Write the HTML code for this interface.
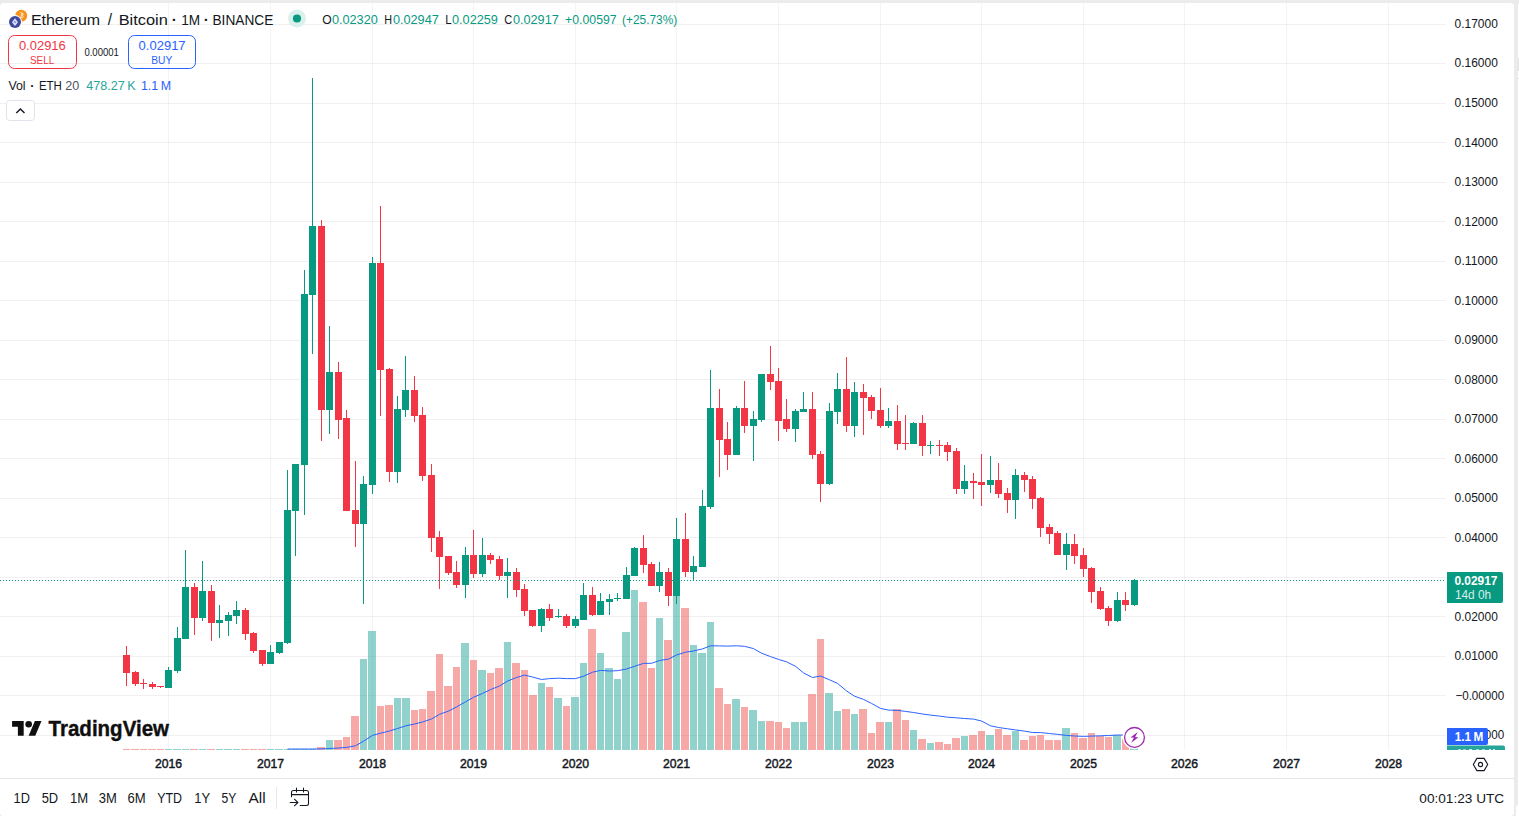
<!DOCTYPE html>
<html><head><meta charset="utf-8"><title>ETHBTC</title>
<style>
html,body{margin:0;padding:0;background:#ebebeb;width:1519px;height:816px;overflow:hidden;font-family:"Liberation Sans",sans-serif;}
text{font-family:"Liberation Sans",sans-serif;}
</style></head><body>
<svg width="1519" height="816" viewBox="0 0 1519 816" style="position:absolute;left:0;top:0;display:block">
<rect x="0" y="0" width="1519" height="816" fill="#ebebeb"/>
<rect x="0" y="3" width="1514" height="813" rx="3.5" ry="3.5" fill="#ffffff"/>
<rect x="1518" y="3" width="4" height="813" rx="3" fill="#ffffff"/>
<rect x="1518" y="58" width="1" height="13" fill="#e3e3e3"/>
<rect x="1518" y="78" width="1" height="1" fill="#e8e8e8"/>
<rect x="1516" y="805" width="6" height="14" rx="2" fill="#ffffff"/>
<g shape-rendering="crispEdges" fill="rgba(42,46,57,0.065)">
<rect x="0" y="24" width="1446" height="1" fill="rgba(42,46,57,0.07)"/>
<rect x="0" y="63" width="1446" height="1" fill="rgba(42,46,57,0.07)"/>
<rect x="0" y="103" width="1446" height="1" fill="rgba(42,46,57,0.07)"/>
<rect x="0" y="142" width="1446" height="1" fill="rgba(42,46,57,0.07)"/>
<rect x="0" y="182" width="1446" height="1" fill="rgba(42,46,57,0.07)"/>
<rect x="0" y="221" width="1446" height="1" fill="rgba(42,46,57,0.07)"/>
<rect x="0" y="261" width="1446" height="1" fill="rgba(42,46,57,0.07)"/>
<rect x="0" y="300" width="1446" height="1" fill="rgba(42,46,57,0.07)"/>
<rect x="0" y="340" width="1446" height="1" fill="rgba(42,46,57,0.07)"/>
<rect x="0" y="379" width="1446" height="1" fill="rgba(42,46,57,0.07)"/>
<rect x="0" y="419" width="1446" height="1" fill="rgba(42,46,57,0.07)"/>
<rect x="0" y="458" width="1446" height="1" fill="rgba(42,46,57,0.07)"/>
<rect x="0" y="498" width="1446" height="1" fill="rgba(42,46,57,0.07)"/>
<rect x="0" y="537" width="1446" height="1" fill="rgba(42,46,57,0.07)"/>
<rect x="0" y="577" width="1446" height="1" fill="rgba(42,46,57,0.07)"/>
<rect x="0" y="616" width="1446" height="1" fill="rgba(42,46,57,0.07)"/>
<rect x="0" y="656" width="1446" height="1" fill="rgba(42,46,57,0.07)"/>
<rect x="0" y="695" width="1446" height="1" fill="rgba(42,46,57,0.07)"/>
<rect x="0" y="735" width="1446" height="1" fill="rgba(42,46,57,0.07)"/>
<rect x="168" y="3" width="1" height="747" fill="rgba(42,46,57,0.05)"/>
<rect x="270" y="3" width="1" height="747" fill="rgba(42,46,57,0.05)"/>
<rect x="372" y="3" width="1" height="747" fill="rgba(42,46,57,0.05)"/>
<rect x="473" y="3" width="1" height="747" fill="rgba(42,46,57,0.05)"/>
<rect x="575" y="3" width="1" height="747" fill="rgba(42,46,57,0.05)"/>
<rect x="676" y="3" width="1" height="747" fill="rgba(42,46,57,0.05)"/>
<rect x="778" y="3" width="1" height="747" fill="rgba(42,46,57,0.05)"/>
<rect x="880" y="3" width="1" height="747" fill="rgba(42,46,57,0.05)"/>
<rect x="981" y="3" width="1" height="747" fill="rgba(42,46,57,0.05)"/>
<rect x="1083" y="3" width="1" height="747" fill="rgba(42,46,57,0.05)"/>
<rect x="1184" y="3" width="1" height="747" fill="rgba(42,46,57,0.05)"/>
<rect x="1286" y="3" width="1" height="747" fill="rgba(42,46,57,0.05)"/>
<rect x="1388" y="3" width="1" height="747" fill="rgba(42,46,57,0.05)"/>
</g>
<g shape-rendering="crispEdges">
<rect x="123" y="749" width="7" height="1" fill="rgba(239,83,80,0.5)"/>
<rect x="131" y="749" width="8" height="1" fill="rgba(239,83,80,0.5)"/>
<rect x="140" y="749" width="7" height="1" fill="rgba(239,83,80,0.5)"/>
<rect x="148" y="749" width="8" height="1" fill="rgba(239,83,80,0.5)"/>
<rect x="157" y="749" width="7" height="1" fill="rgba(239,83,80,0.5)"/>
<rect x="165" y="749" width="7" height="1" fill="rgba(38,166,154,0.5)"/>
<rect x="173" y="749" width="8" height="1" fill="rgba(38,166,154,0.5)"/>
<rect x="182" y="749" width="7" height="1" fill="rgba(38,166,154,0.5)"/>
<rect x="190" y="749" width="8" height="1" fill="rgba(239,83,80,0.5)"/>
<rect x="199" y="749" width="7" height="1" fill="rgba(38,166,154,0.5)"/>
<rect x="207" y="749" width="8" height="1" fill="rgba(239,83,80,0.5)"/>
<rect x="216" y="749" width="7" height="1" fill="rgba(38,166,154,0.5)"/>
<rect x="224" y="749" width="8" height="1" fill="rgba(38,166,154,0.5)"/>
<rect x="233" y="749" width="7" height="1" fill="rgba(38,166,154,0.5)"/>
<rect x="241" y="749" width="8" height="1" fill="rgba(239,83,80,0.5)"/>
<rect x="250" y="749" width="7" height="1" fill="rgba(239,83,80,0.5)"/>
<rect x="258" y="749" width="8" height="1" fill="rgba(239,83,80,0.5)"/>
<rect x="267" y="749" width="7" height="1" fill="rgba(38,166,154,0.5)"/>
<rect x="275" y="749" width="8" height="1" fill="rgba(38,166,154,0.5)"/>
<rect x="284" y="749" width="7" height="1" fill="rgba(38,166,154,0.5)"/>
<rect x="292" y="749" width="7" height="1" fill="rgba(38,166,154,0.5)"/>
<rect x="300" y="749" width="8" height="1" fill="rgba(38,166,154,0.5)"/>
<rect x="309" y="749" width="7" height="1" fill="rgba(38,166,154,0.5)"/>
<rect x="317" y="747" width="8" height="3" fill="rgba(239,83,80,0.5)"/>
<rect x="326" y="740" width="7" height="10" fill="rgba(38,166,154,0.5)"/>
<rect x="334" y="740" width="8" height="10" fill="rgba(239,83,80,0.5)"/>
<rect x="343" y="737" width="7" height="13" fill="rgba(239,83,80,0.5)"/>
<rect x="351" y="716" width="8" height="34" fill="rgba(239,83,80,0.5)"/>
<rect x="360" y="659" width="7" height="91" fill="rgba(38,166,154,0.5)"/>
<rect x="368" y="631" width="8" height="119" fill="rgba(38,166,154,0.5)"/>
<rect x="377" y="706" width="7" height="44" fill="rgba(239,83,80,0.5)"/>
<rect x="385" y="705" width="8" height="45" fill="rgba(239,83,80,0.5)"/>
<rect x="394" y="698" width="7" height="52" fill="rgba(38,166,154,0.5)"/>
<rect x="402" y="698" width="8" height="52" fill="rgba(38,166,154,0.5)"/>
<rect x="411" y="710" width="7" height="40" fill="rgba(239,83,80,0.5)"/>
<rect x="419" y="709" width="7" height="41" fill="rgba(239,83,80,0.5)"/>
<rect x="427" y="691" width="8" height="59" fill="rgba(239,83,80,0.5)"/>
<rect x="436" y="654" width="7" height="96" fill="rgba(239,83,80,0.5)"/>
<rect x="444" y="686" width="8" height="64" fill="rgba(239,83,80,0.5)"/>
<rect x="453" y="667" width="7" height="83" fill="rgba(239,83,80,0.5)"/>
<rect x="461" y="643" width="8" height="107" fill="rgba(38,166,154,0.5)"/>
<rect x="470" y="660" width="7" height="90" fill="rgba(239,83,80,0.5)"/>
<rect x="478" y="670" width="8" height="80" fill="rgba(38,166,154,0.5)"/>
<rect x="487" y="673" width="7" height="77" fill="rgba(239,83,80,0.5)"/>
<rect x="495" y="668" width="8" height="82" fill="rgba(239,83,80,0.5)"/>
<rect x="504" y="642" width="7" height="108" fill="rgba(38,166,154,0.5)"/>
<rect x="512" y="663" width="8" height="87" fill="rgba(239,83,80,0.5)"/>
<rect x="521" y="670" width="7" height="80" fill="rgba(239,83,80,0.5)"/>
<rect x="529" y="695" width="8" height="55" fill="rgba(239,83,80,0.5)"/>
<rect x="538" y="683" width="7" height="67" fill="rgba(38,166,154,0.5)"/>
<rect x="546" y="687" width="7" height="63" fill="rgba(239,83,80,0.5)"/>
<rect x="554" y="698" width="8" height="52" fill="rgba(38,166,154,0.5)"/>
<rect x="563" y="706" width="7" height="44" fill="rgba(239,83,80,0.5)"/>
<rect x="571" y="697" width="8" height="53" fill="rgba(38,166,154,0.5)"/>
<rect x="580" y="663" width="7" height="87" fill="rgba(38,166,154,0.5)"/>
<rect x="588" y="629" width="8" height="121" fill="rgba(239,83,80,0.5)"/>
<rect x="597" y="653" width="7" height="97" fill="rgba(38,166,154,0.5)"/>
<rect x="605" y="668" width="8" height="82" fill="rgba(38,166,154,0.5)"/>
<rect x="614" y="679" width="7" height="71" fill="rgba(38,166,154,0.5)"/>
<rect x="622" y="632" width="8" height="118" fill="rgba(38,166,154,0.5)"/>
<rect x="631" y="590" width="7" height="160" fill="rgba(38,166,154,0.5)"/>
<rect x="639" y="602" width="8" height="148" fill="rgba(239,83,80,0.5)"/>
<rect x="648" y="668" width="7" height="82" fill="rgba(239,83,80,0.5)"/>
<rect x="656" y="618" width="7" height="132" fill="rgba(38,166,154,0.5)"/>
<rect x="664" y="640" width="8" height="110" fill="rgba(239,83,80,0.5)"/>
<rect x="673" y="558" width="7" height="192" fill="rgba(38,166,154,0.5)"/>
<rect x="681" y="608" width="8" height="142" fill="rgba(239,83,80,0.5)"/>
<rect x="690" y="645" width="7" height="105" fill="rgba(38,166,154,0.5)"/>
<rect x="698" y="653" width="8" height="97" fill="rgba(38,166,154,0.5)"/>
<rect x="707" y="622" width="7" height="128" fill="rgba(38,166,154,0.5)"/>
<rect x="715" y="688" width="8" height="62" fill="rgba(239,83,80,0.5)"/>
<rect x="724" y="704" width="7" height="46" fill="rgba(239,83,80,0.5)"/>
<rect x="732" y="699" width="8" height="51" fill="rgba(38,166,154,0.5)"/>
<rect x="741" y="707" width="7" height="43" fill="rgba(239,83,80,0.5)"/>
<rect x="749" y="710" width="8" height="40" fill="rgba(38,166,154,0.5)"/>
<rect x="758" y="721" width="7" height="29" fill="rgba(38,166,154,0.5)"/>
<rect x="766" y="721" width="8" height="29" fill="rgba(239,83,80,0.5)"/>
<rect x="775" y="722" width="7" height="28" fill="rgba(239,83,80,0.5)"/>
<rect x="783" y="728" width="7" height="22" fill="rgba(239,83,80,0.5)"/>
<rect x="791" y="722" width="8" height="28" fill="rgba(38,166,154,0.5)"/>
<rect x="800" y="722" width="7" height="28" fill="rgba(38,166,154,0.5)"/>
<rect x="808" y="694" width="8" height="56" fill="rgba(239,83,80,0.5)"/>
<rect x="817" y="639" width="7" height="111" fill="rgba(239,83,80,0.5)"/>
<rect x="825" y="693" width="8" height="57" fill="rgba(38,166,154,0.5)"/>
<rect x="834" y="711" width="7" height="39" fill="rgba(38,166,154,0.5)"/>
<rect x="842" y="709" width="8" height="41" fill="rgba(239,83,80,0.5)"/>
<rect x="851" y="714" width="7" height="36" fill="rgba(38,166,154,0.5)"/>
<rect x="859" y="709" width="8" height="41" fill="rgba(239,83,80,0.5)"/>
<rect x="868" y="733" width="7" height="17" fill="rgba(239,83,80,0.5)"/>
<rect x="876" y="722" width="8" height="28" fill="rgba(239,83,80,0.5)"/>
<rect x="885" y="722" width="7" height="28" fill="rgba(38,166,154,0.5)"/>
<rect x="893" y="709" width="8" height="41" fill="rgba(239,83,80,0.5)"/>
<rect x="902" y="720" width="7" height="30" fill="rgba(239,83,80,0.5)"/>
<rect x="910" y="730" width="7" height="20" fill="rgba(38,166,154,0.5)"/>
<rect x="918" y="739" width="8" height="11" fill="rgba(239,83,80,0.5)"/>
<rect x="927" y="743" width="7" height="7" fill="rgba(38,166,154,0.5)"/>
<rect x="935" y="742" width="8" height="8" fill="rgba(239,83,80,0.5)"/>
<rect x="944" y="744" width="7" height="6" fill="rgba(239,83,80,0.5)"/>
<rect x="952" y="738" width="8" height="12" fill="rgba(239,83,80,0.5)"/>
<rect x="961" y="736" width="7" height="14" fill="rgba(38,166,154,0.5)"/>
<rect x="969" y="735" width="8" height="15" fill="rgba(239,83,80,0.5)"/>
<rect x="978" y="731" width="7" height="19" fill="rgba(239,83,80,0.5)"/>
<rect x="986" y="735" width="8" height="15" fill="rgba(38,166,154,0.5)"/>
<rect x="995" y="729" width="7" height="21" fill="rgba(239,83,80,0.5)"/>
<rect x="1003" y="735" width="8" height="15" fill="rgba(239,83,80,0.5)"/>
<rect x="1012" y="731" width="7" height="19" fill="rgba(38,166,154,0.5)"/>
<rect x="1020" y="740" width="8" height="10" fill="rgba(239,83,80,0.5)"/>
<rect x="1029" y="736" width="7" height="14" fill="rgba(239,83,80,0.5)"/>
<rect x="1037" y="735" width="7" height="15" fill="rgba(239,83,80,0.5)"/>
<rect x="1045" y="740" width="8" height="10" fill="rgba(239,83,80,0.5)"/>
<rect x="1054" y="740" width="7" height="10" fill="rgba(239,83,80,0.5)"/>
<rect x="1062" y="728" width="8" height="22" fill="rgba(38,166,154,0.5)"/>
<rect x="1071" y="733" width="7" height="17" fill="rgba(239,83,80,0.5)"/>
<rect x="1079" y="738" width="8" height="12" fill="rgba(239,83,80,0.5)"/>
<rect x="1088" y="733" width="7" height="17" fill="rgba(239,83,80,0.5)"/>
<rect x="1096" y="736" width="8" height="14" fill="rgba(239,83,80,0.5)"/>
<rect x="1105" y="737" width="7" height="13" fill="rgba(239,83,80,0.5)"/>
<rect x="1113" y="735" width="8" height="15" fill="rgba(38,166,154,0.5)"/>
<rect x="1122" y="739" width="7" height="11" fill="rgba(239,83,80,0.5)"/>
<rect x="1130" y="744" width="8" height="6" fill="rgba(38,166,154,0.5)"/>
</g>
<path d="M287.5 749.0 L295.5 749.0 L304.5 749.0 L312.5 749.0 L321.5 748.9 L329.5 748.5 L338.5 748.0 L346.5 747.4 L355.5 745.8 L363.5 741.2 L372.5 735.4 L380.5 733.2 L389.5 731.0 L397.5 728.5 L405.5 725.9 L414.5 724.0 L422.5 722.0 L431.5 719.0 L439.5 714.3 L448.5 711.1 L456.5 707.0 L465.5 701.8 L473.5 697.3 L482.5 693.4 L490.5 689.6 L499.5 686.0 L507.5 681.1 L516.5 677.5 L524.5 675.1 L532.5 677.0 L541.5 679.5 L549.5 678.6 L558.5 678.2 L566.5 678.6 L575.5 678.6 L583.5 676.2 L592.5 672.2 L600.5 670.4 L609.5 671.0 L617.5 670.7 L626.5 669.0 L634.5 666.3 L643.5 663.4 L651.5 663.3 L659.5 660.5 L668.5 659.1 L676.5 655.0 L685.5 652.2 L693.5 651.0 L702.5 648.9 L710.5 645.8 L719.5 645.9 L727.5 646.1 L736.5 645.8 L744.5 646.3 L753.5 648.6 L761.5 653.2 L770.5 656.6 L778.5 659.4 L786.5 661.8 L795.5 666.3 L803.5 672.9 L812.5 677.5 L820.5 676.0 L829.5 679.8 L837.5 683.4 L846.5 690.9 L854.5 696.2 L863.5 699.4 L871.5 703.4 L880.5 708.4 L888.5 710.1 L897.5 710.4 L905.5 711.4 L913.5 712.5 L922.5 714.0 L930.5 715.1 L939.5 716.1 L947.5 717.2 L956.5 717.8 L964.5 718.5 L973.5 719.1 L981.5 721.0 L990.5 725.8 L998.5 727.5 L1007.5 728.8 L1015.5 729.9 L1024.5 731.1 L1032.5 732.5 L1040.5 732.6 L1049.5 733.5 L1057.5 734.4 L1066.5 735.4 L1074.5 736.0 L1083.5 736.4 L1091.5 736.1 L1100.5 735.8 L1108.5 735.5 L1117.5 735.0 L1125.5 735.1 L1134.5 735.5" fill="none" stroke="#2962ff" stroke-width="1" stroke-linejoin="round"/>
<g shape-rendering="crispEdges">
<rect x="126" y="646" width="1" height="40" fill="#f23645"/>
<rect x="123" y="655" width="7" height="18" fill="#f23645"/>
<rect x="135" y="671" width="1" height="15" fill="#f23645"/>
<rect x="132" y="672" width="7" height="12" fill="#f23645"/>
<rect x="143" y="679" width="1" height="10" fill="#f23645"/>
<rect x="140" y="683" width="7" height="1" fill="#f23645"/>
<rect x="152" y="682" width="1" height="7" fill="#f23645"/>
<rect x="149" y="684" width="7" height="3" fill="#f23645"/>
<rect x="160" y="686" width="1" height="2" fill="#f23645"/>
<rect x="157" y="686" width="7" height="1" fill="#f23645"/>
<rect x="168" y="667" width="1" height="21" fill="#089981"/>
<rect x="165" y="670" width="7" height="18" fill="#089981"/>
<rect x="177" y="627" width="1" height="46" fill="#089981"/>
<rect x="174" y="638" width="7" height="33" fill="#089981"/>
<rect x="185" y="550" width="1" height="89" fill="#089981"/>
<rect x="182" y="587" width="7" height="52" fill="#089981"/>
<rect x="194" y="583" width="1" height="52" fill="#f23645"/>
<rect x="191" y="587" width="7" height="31" fill="#f23645"/>
<rect x="202" y="561" width="1" height="60" fill="#089981"/>
<rect x="199" y="591" width="7" height="27" fill="#089981"/>
<rect x="211" y="585" width="1" height="56" fill="#f23645"/>
<rect x="208" y="591" width="7" height="32" fill="#f23645"/>
<rect x="219" y="605" width="1" height="33" fill="#089981"/>
<rect x="216" y="620" width="7" height="3" fill="#089981"/>
<rect x="228" y="612" width="1" height="24" fill="#089981"/>
<rect x="225" y="615" width="7" height="6" fill="#089981"/>
<rect x="236" y="601" width="1" height="23" fill="#089981"/>
<rect x="233" y="610" width="7" height="6" fill="#089981"/>
<rect x="245" y="608" width="1" height="32" fill="#f23645"/>
<rect x="242" y="610" width="7" height="24" fill="#f23645"/>
<rect x="253" y="632" width="1" height="21" fill="#f23645"/>
<rect x="250" y="633" width="7" height="18" fill="#f23645"/>
<rect x="262" y="650" width="1" height="16" fill="#f23645"/>
<rect x="259" y="650" width="7" height="14" fill="#f23645"/>
<rect x="270" y="645" width="1" height="19" fill="#089981"/>
<rect x="267" y="652" width="7" height="12" fill="#089981"/>
<rect x="279" y="642" width="1" height="12" fill="#089981"/>
<rect x="276" y="642" width="7" height="11" fill="#089981"/>
<rect x="287" y="470" width="1" height="174" fill="#089981"/>
<rect x="284" y="510" width="7" height="133" fill="#089981"/>
<rect x="295" y="464" width="1" height="92" fill="#089981"/>
<rect x="292" y="464" width="7" height="47" fill="#089981"/>
<rect x="304" y="270" width="1" height="245" fill="#089981"/>
<rect x="301" y="294" width="7" height="171" fill="#089981"/>
<rect x="312" y="78" width="1" height="276" fill="#089981"/>
<rect x="309" y="226" width="7" height="69" fill="#089981"/>
<rect x="321" y="220" width="1" height="221" fill="#f23645"/>
<rect x="318" y="226" width="7" height="184" fill="#f23645"/>
<rect x="329" y="326" width="1" height="108" fill="#089981"/>
<rect x="326" y="372" width="7" height="38" fill="#089981"/>
<rect x="338" y="362" width="1" height="77" fill="#f23645"/>
<rect x="335" y="372" width="7" height="48" fill="#f23645"/>
<rect x="346" y="410" width="1" height="101" fill="#f23645"/>
<rect x="343" y="418" width="7" height="93" fill="#f23645"/>
<rect x="355" y="461" width="1" height="86" fill="#f23645"/>
<rect x="352" y="510" width="7" height="14" fill="#f23645"/>
<rect x="363" y="476" width="1" height="128" fill="#089981"/>
<rect x="360" y="484" width="7" height="40" fill="#089981"/>
<rect x="372" y="257" width="1" height="237" fill="#089981"/>
<rect x="369" y="263" width="7" height="222" fill="#089981"/>
<rect x="380" y="206" width="1" height="210" fill="#f23645"/>
<rect x="377" y="263" width="7" height="107" fill="#f23645"/>
<rect x="389" y="368" width="1" height="114" fill="#f23645"/>
<rect x="386" y="369" width="7" height="103" fill="#f23645"/>
<rect x="397" y="396" width="1" height="87" fill="#089981"/>
<rect x="394" y="409" width="7" height="63" fill="#089981"/>
<rect x="405" y="356" width="1" height="61" fill="#089981"/>
<rect x="402" y="390" width="7" height="20" fill="#089981"/>
<rect x="414" y="376" width="1" height="46" fill="#f23645"/>
<rect x="411" y="390" width="7" height="26" fill="#f23645"/>
<rect x="422" y="407" width="1" height="74" fill="#f23645"/>
<rect x="419" y="415" width="7" height="61" fill="#f23645"/>
<rect x="431" y="464" width="1" height="88" fill="#f23645"/>
<rect x="428" y="475" width="7" height="63" fill="#f23645"/>
<rect x="439" y="531" width="1" height="58" fill="#f23645"/>
<rect x="436" y="537" width="7" height="20" fill="#f23645"/>
<rect x="448" y="556" width="1" height="19" fill="#f23645"/>
<rect x="445" y="556" width="7" height="17" fill="#f23645"/>
<rect x="456" y="561" width="1" height="27" fill="#f23645"/>
<rect x="453" y="572" width="7" height="13" fill="#f23645"/>
<rect x="465" y="547" width="1" height="51" fill="#089981"/>
<rect x="462" y="555" width="7" height="30" fill="#089981"/>
<rect x="473" y="530" width="1" height="48" fill="#f23645"/>
<rect x="470" y="555" width="7" height="19" fill="#f23645"/>
<rect x="482" y="538" width="1" height="39" fill="#089981"/>
<rect x="479" y="555" width="7" height="19" fill="#089981"/>
<rect x="490" y="553" width="1" height="11" fill="#f23645"/>
<rect x="487" y="555" width="7" height="5" fill="#f23645"/>
<rect x="499" y="556" width="1" height="24" fill="#f23645"/>
<rect x="496" y="559" width="7" height="17" fill="#f23645"/>
<rect x="507" y="558" width="1" height="40" fill="#089981"/>
<rect x="504" y="572" width="7" height="4" fill="#089981"/>
<rect x="516" y="568" width="1" height="29" fill="#f23645"/>
<rect x="513" y="572" width="7" height="18" fill="#f23645"/>
<rect x="524" y="584" width="1" height="32" fill="#f23645"/>
<rect x="521" y="589" width="7" height="22" fill="#f23645"/>
<rect x="532" y="610" width="1" height="17" fill="#f23645"/>
<rect x="529" y="610" width="7" height="16" fill="#f23645"/>
<rect x="541" y="608" width="1" height="24" fill="#089981"/>
<rect x="538" y="609" width="7" height="17" fill="#089981"/>
<rect x="549" y="604" width="1" height="17" fill="#f23645"/>
<rect x="546" y="609" width="7" height="9" fill="#f23645"/>
<rect x="558" y="609" width="1" height="9" fill="#089981"/>
<rect x="555" y="616" width="7" height="1" fill="#089981"/>
<rect x="566" y="614" width="1" height="14" fill="#f23645"/>
<rect x="563" y="616" width="7" height="10" fill="#f23645"/>
<rect x="575" y="616" width="1" height="12" fill="#089981"/>
<rect x="572" y="619" width="7" height="7" fill="#089981"/>
<rect x="583" y="583" width="1" height="37" fill="#089981"/>
<rect x="580" y="595" width="7" height="25" fill="#089981"/>
<rect x="592" y="587" width="1" height="29" fill="#f23645"/>
<rect x="589" y="595" width="7" height="20" fill="#f23645"/>
<rect x="600" y="593" width="1" height="22" fill="#089981"/>
<rect x="597" y="601" width="7" height="14" fill="#089981"/>
<rect x="609" y="594" width="1" height="21" fill="#089981"/>
<rect x="606" y="599" width="7" height="3" fill="#089981"/>
<rect x="617" y="593" width="1" height="8" fill="#089981"/>
<rect x="614" y="598" width="7" height="1" fill="#089981"/>
<rect x="626" y="567" width="1" height="32" fill="#089981"/>
<rect x="623" y="575" width="7" height="24" fill="#089981"/>
<rect x="634" y="547" width="1" height="29" fill="#089981"/>
<rect x="631" y="548" width="7" height="28" fill="#089981"/>
<rect x="643" y="535" width="1" height="38" fill="#f23645"/>
<rect x="640" y="548" width="7" height="17" fill="#f23645"/>
<rect x="651" y="562" width="1" height="24" fill="#f23645"/>
<rect x="648" y="564" width="7" height="22" fill="#f23645"/>
<rect x="659" y="562" width="1" height="30" fill="#089981"/>
<rect x="656" y="572" width="7" height="14" fill="#089981"/>
<rect x="668" y="568" width="1" height="38" fill="#f23645"/>
<rect x="665" y="572" width="7" height="24" fill="#f23645"/>
<rect x="676" y="518" width="1" height="86" fill="#089981"/>
<rect x="673" y="539" width="7" height="57" fill="#089981"/>
<rect x="685" y="513" width="1" height="64" fill="#f23645"/>
<rect x="682" y="539" width="7" height="33" fill="#f23645"/>
<rect x="693" y="556" width="1" height="25" fill="#089981"/>
<rect x="690" y="566" width="7" height="6" fill="#089981"/>
<rect x="702" y="490" width="1" height="77" fill="#089981"/>
<rect x="699" y="506" width="7" height="61" fill="#089981"/>
<rect x="710" y="370" width="1" height="139" fill="#089981"/>
<rect x="707" y="408" width="7" height="99" fill="#089981"/>
<rect x="719" y="389" width="1" height="88" fill="#f23645"/>
<rect x="716" y="408" width="7" height="32" fill="#f23645"/>
<rect x="727" y="422" width="1" height="48" fill="#f23645"/>
<rect x="724" y="439" width="7" height="16" fill="#f23645"/>
<rect x="736" y="406" width="1" height="49" fill="#089981"/>
<rect x="733" y="408" width="7" height="47" fill="#089981"/>
<rect x="744" y="381" width="1" height="52" fill="#f23645"/>
<rect x="741" y="408" width="7" height="18" fill="#f23645"/>
<rect x="753" y="411" width="1" height="50" fill="#089981"/>
<rect x="750" y="419" width="7" height="7" fill="#089981"/>
<rect x="761" y="374" width="1" height="48" fill="#089981"/>
<rect x="758" y="374" width="7" height="46" fill="#089981"/>
<rect x="770" y="346" width="1" height="44" fill="#f23645"/>
<rect x="767" y="374" width="7" height="8" fill="#f23645"/>
<rect x="778" y="368" width="1" height="73" fill="#f23645"/>
<rect x="775" y="381" width="7" height="40" fill="#f23645"/>
<rect x="786" y="399" width="1" height="33" fill="#f23645"/>
<rect x="783" y="419" width="7" height="10" fill="#f23645"/>
<rect x="795" y="409" width="1" height="33" fill="#089981"/>
<rect x="792" y="411" width="7" height="18" fill="#089981"/>
<rect x="803" y="392" width="1" height="20" fill="#089981"/>
<rect x="800" y="409" width="7" height="3" fill="#089981"/>
<rect x="812" y="392" width="1" height="67" fill="#f23645"/>
<rect x="809" y="409" width="7" height="46" fill="#f23645"/>
<rect x="820" y="451" width="1" height="51" fill="#f23645"/>
<rect x="817" y="454" width="7" height="30" fill="#f23645"/>
<rect x="829" y="403" width="1" height="82" fill="#089981"/>
<rect x="826" y="411" width="7" height="73" fill="#089981"/>
<rect x="837" y="373" width="1" height="51" fill="#089981"/>
<rect x="834" y="389" width="7" height="23" fill="#089981"/>
<rect x="846" y="357" width="1" height="75" fill="#f23645"/>
<rect x="843" y="389" width="7" height="37" fill="#f23645"/>
<rect x="854" y="382" width="1" height="55" fill="#089981"/>
<rect x="851" y="392" width="7" height="34" fill="#089981"/>
<rect x="863" y="384" width="1" height="51" fill="#f23645"/>
<rect x="860" y="392" width="7" height="6" fill="#f23645"/>
<rect x="871" y="395" width="1" height="24" fill="#f23645"/>
<rect x="868" y="397" width="7" height="14" fill="#f23645"/>
<rect x="880" y="388" width="1" height="40" fill="#f23645"/>
<rect x="877" y="410" width="7" height="16" fill="#f23645"/>
<rect x="888" y="408" width="1" height="20" fill="#089981"/>
<rect x="885" y="421" width="7" height="5" fill="#089981"/>
<rect x="897" y="405" width="1" height="45" fill="#f23645"/>
<rect x="894" y="421" width="7" height="23" fill="#f23645"/>
<rect x="905" y="415" width="1" height="35" fill="#f23645"/>
<rect x="902" y="443" width="7" height="1" fill="#f23645"/>
<rect x="913" y="422" width="1" height="22" fill="#089981"/>
<rect x="910" y="423" width="7" height="21" fill="#089981"/>
<rect x="922" y="415" width="1" height="41" fill="#f23645"/>
<rect x="919" y="423" width="7" height="23" fill="#f23645"/>
<rect x="930" y="441" width="1" height="13" fill="#089981"/>
<rect x="927" y="445" width="7" height="1" fill="#089981"/>
<rect x="939" y="440" width="1" height="16" fill="#f23645"/>
<rect x="936" y="445" width="7" height="1" fill="#f23645"/>
<rect x="947" y="442" width="1" height="19" fill="#f23645"/>
<rect x="944" y="445" width="7" height="7" fill="#f23645"/>
<rect x="956" y="448" width="1" height="46" fill="#f23645"/>
<rect x="953" y="451" width="7" height="38" fill="#f23645"/>
<rect x="964" y="465" width="1" height="29" fill="#089981"/>
<rect x="961" y="481" width="7" height="8" fill="#089981"/>
<rect x="973" y="473" width="1" height="26" fill="#f23645"/>
<rect x="970" y="481" width="7" height="2" fill="#f23645"/>
<rect x="981" y="454" width="1" height="52" fill="#f23645"/>
<rect x="978" y="482" width="7" height="3" fill="#f23645"/>
<rect x="990" y="456" width="1" height="37" fill="#089981"/>
<rect x="987" y="480" width="7" height="5" fill="#089981"/>
<rect x="998" y="463" width="1" height="35" fill="#f23645"/>
<rect x="995" y="480" width="7" height="14" fill="#f23645"/>
<rect x="1007" y="488" width="1" height="25" fill="#f23645"/>
<rect x="1004" y="493" width="7" height="7" fill="#f23645"/>
<rect x="1015" y="469" width="1" height="50" fill="#089981"/>
<rect x="1012" y="475" width="7" height="25" fill="#089981"/>
<rect x="1024" y="472" width="1" height="20" fill="#f23645"/>
<rect x="1021" y="475" width="7" height="5" fill="#f23645"/>
<rect x="1032" y="476" width="1" height="33" fill="#f23645"/>
<rect x="1029" y="479" width="7" height="20" fill="#f23645"/>
<rect x="1040" y="497" width="1" height="40" fill="#f23645"/>
<rect x="1037" y="498" width="7" height="30" fill="#f23645"/>
<rect x="1049" y="524" width="1" height="20" fill="#f23645"/>
<rect x="1046" y="527" width="7" height="7" fill="#f23645"/>
<rect x="1057" y="531" width="1" height="24" fill="#f23645"/>
<rect x="1054" y="533" width="7" height="22" fill="#f23645"/>
<rect x="1066" y="533" width="1" height="37" fill="#089981"/>
<rect x="1063" y="544" width="7" height="11" fill="#089981"/>
<rect x="1074" y="534" width="1" height="30" fill="#f23645"/>
<rect x="1071" y="544" width="7" height="12" fill="#f23645"/>
<rect x="1083" y="548" width="1" height="29" fill="#f23645"/>
<rect x="1080" y="555" width="7" height="14" fill="#f23645"/>
<rect x="1091" y="567" width="1" height="36" fill="#f23645"/>
<rect x="1088" y="568" width="7" height="24" fill="#f23645"/>
<rect x="1100" y="587" width="1" height="23" fill="#f23645"/>
<rect x="1097" y="591" width="7" height="18" fill="#f23645"/>
<rect x="1108" y="606" width="1" height="20" fill="#f23645"/>
<rect x="1105" y="608" width="7" height="13" fill="#f23645"/>
<rect x="1117" y="592" width="1" height="30" fill="#089981"/>
<rect x="1114" y="600" width="7" height="21" fill="#089981"/>
<rect x="1125" y="592" width="1" height="19" fill="#f23645"/>
<rect x="1122" y="600" width="7" height="5" fill="#f23645"/>
<rect x="1134" y="579" width="1" height="27" fill="#089981"/>
<rect x="1131" y="580" width="7" height="25" fill="#089981"/>
</g>
<g shape-rendering="crispEdges" fill="#089981">
<path d="M0 580h1v1h-1zM3 580h1v1h-1zM6 580h1v1h-1zM9 580h1v1h-1zM12 580h1v1h-1zM15 580h1v1h-1zM18 580h1v1h-1zM21 580h1v1h-1zM24 580h1v1h-1zM27 580h1v1h-1zM30 580h1v1h-1zM33 580h1v1h-1zM36 580h1v1h-1zM39 580h1v1h-1zM42 580h1v1h-1zM45 580h1v1h-1zM48 580h1v1h-1zM51 580h1v1h-1zM54 580h1v1h-1zM57 580h1v1h-1zM60 580h1v1h-1zM63 580h1v1h-1zM66 580h1v1h-1zM69 580h1v1h-1zM72 580h1v1h-1zM75 580h1v1h-1zM78 580h1v1h-1zM81 580h1v1h-1zM84 580h1v1h-1zM87 580h1v1h-1zM90 580h1v1h-1zM93 580h1v1h-1zM96 580h1v1h-1zM99 580h1v1h-1zM102 580h1v1h-1zM105 580h1v1h-1zM108 580h1v1h-1zM111 580h1v1h-1zM114 580h1v1h-1zM117 580h1v1h-1zM120 580h1v1h-1zM123 580h1v1h-1zM126 580h1v1h-1zM129 580h1v1h-1zM132 580h1v1h-1zM135 580h1v1h-1zM138 580h1v1h-1zM141 580h1v1h-1zM144 580h1v1h-1zM147 580h1v1h-1zM150 580h1v1h-1zM153 580h1v1h-1zM156 580h1v1h-1zM159 580h1v1h-1zM162 580h1v1h-1zM165 580h1v1h-1zM168 580h1v1h-1zM171 580h1v1h-1zM174 580h1v1h-1zM177 580h1v1h-1zM180 580h1v1h-1zM183 580h1v1h-1zM186 580h1v1h-1zM189 580h1v1h-1zM192 580h1v1h-1zM195 580h1v1h-1zM198 580h1v1h-1zM201 580h1v1h-1zM204 580h1v1h-1zM207 580h1v1h-1zM210 580h1v1h-1zM213 580h1v1h-1zM216 580h1v1h-1zM219 580h1v1h-1zM222 580h1v1h-1zM225 580h1v1h-1zM228 580h1v1h-1zM231 580h1v1h-1zM234 580h1v1h-1zM237 580h1v1h-1zM240 580h1v1h-1zM243 580h1v1h-1zM246 580h1v1h-1zM249 580h1v1h-1zM252 580h1v1h-1zM255 580h1v1h-1zM258 580h1v1h-1zM261 580h1v1h-1zM264 580h1v1h-1zM267 580h1v1h-1zM270 580h1v1h-1zM273 580h1v1h-1zM276 580h1v1h-1zM279 580h1v1h-1zM282 580h1v1h-1zM285 580h1v1h-1zM288 580h1v1h-1zM291 580h1v1h-1zM294 580h1v1h-1zM297 580h1v1h-1zM300 580h1v1h-1zM303 580h1v1h-1zM306 580h1v1h-1zM309 580h1v1h-1zM312 580h1v1h-1zM315 580h1v1h-1zM318 580h1v1h-1zM321 580h1v1h-1zM324 580h1v1h-1zM327 580h1v1h-1zM330 580h1v1h-1zM333 580h1v1h-1zM336 580h1v1h-1zM339 580h1v1h-1zM342 580h1v1h-1zM345 580h1v1h-1zM348 580h1v1h-1zM351 580h1v1h-1zM354 580h1v1h-1zM357 580h1v1h-1zM360 580h1v1h-1zM363 580h1v1h-1zM366 580h1v1h-1zM369 580h1v1h-1zM372 580h1v1h-1zM375 580h1v1h-1zM378 580h1v1h-1zM381 580h1v1h-1zM384 580h1v1h-1zM387 580h1v1h-1zM390 580h1v1h-1zM393 580h1v1h-1zM396 580h1v1h-1zM399 580h1v1h-1zM402 580h1v1h-1zM405 580h1v1h-1zM408 580h1v1h-1zM411 580h1v1h-1zM414 580h1v1h-1zM417 580h1v1h-1zM420 580h1v1h-1zM423 580h1v1h-1zM426 580h1v1h-1zM429 580h1v1h-1zM432 580h1v1h-1zM435 580h1v1h-1zM438 580h1v1h-1zM441 580h1v1h-1zM444 580h1v1h-1zM447 580h1v1h-1zM450 580h1v1h-1zM453 580h1v1h-1zM456 580h1v1h-1zM459 580h1v1h-1zM462 580h1v1h-1zM465 580h1v1h-1zM468 580h1v1h-1zM471 580h1v1h-1zM474 580h1v1h-1zM477 580h1v1h-1zM480 580h1v1h-1zM483 580h1v1h-1zM486 580h1v1h-1zM489 580h1v1h-1zM492 580h1v1h-1zM495 580h1v1h-1zM498 580h1v1h-1zM501 580h1v1h-1zM504 580h1v1h-1zM507 580h1v1h-1zM510 580h1v1h-1zM513 580h1v1h-1zM516 580h1v1h-1zM519 580h1v1h-1zM522 580h1v1h-1zM525 580h1v1h-1zM528 580h1v1h-1zM531 580h1v1h-1zM534 580h1v1h-1zM537 580h1v1h-1zM540 580h1v1h-1zM543 580h1v1h-1zM546 580h1v1h-1zM549 580h1v1h-1zM552 580h1v1h-1zM555 580h1v1h-1zM558 580h1v1h-1zM561 580h1v1h-1zM564 580h1v1h-1zM567 580h1v1h-1zM570 580h1v1h-1zM573 580h1v1h-1zM576 580h1v1h-1zM579 580h1v1h-1zM582 580h1v1h-1zM585 580h1v1h-1zM588 580h1v1h-1zM591 580h1v1h-1zM594 580h1v1h-1zM597 580h1v1h-1zM600 580h1v1h-1zM603 580h1v1h-1zM606 580h1v1h-1zM609 580h1v1h-1zM612 580h1v1h-1zM615 580h1v1h-1zM618 580h1v1h-1zM621 580h1v1h-1zM624 580h1v1h-1zM627 580h1v1h-1zM630 580h1v1h-1zM633 580h1v1h-1zM636 580h1v1h-1zM639 580h1v1h-1zM642 580h1v1h-1zM645 580h1v1h-1zM648 580h1v1h-1zM651 580h1v1h-1zM654 580h1v1h-1zM657 580h1v1h-1zM660 580h1v1h-1zM663 580h1v1h-1zM666 580h1v1h-1zM669 580h1v1h-1zM672 580h1v1h-1zM675 580h1v1h-1zM678 580h1v1h-1zM681 580h1v1h-1zM684 580h1v1h-1zM687 580h1v1h-1zM690 580h1v1h-1zM693 580h1v1h-1zM696 580h1v1h-1zM699 580h1v1h-1zM702 580h1v1h-1zM705 580h1v1h-1zM708 580h1v1h-1zM711 580h1v1h-1zM714 580h1v1h-1zM717 580h1v1h-1zM720 580h1v1h-1zM723 580h1v1h-1zM726 580h1v1h-1zM729 580h1v1h-1zM732 580h1v1h-1zM735 580h1v1h-1zM738 580h1v1h-1zM741 580h1v1h-1zM744 580h1v1h-1zM747 580h1v1h-1zM750 580h1v1h-1zM753 580h1v1h-1zM756 580h1v1h-1zM759 580h1v1h-1zM762 580h1v1h-1zM765 580h1v1h-1zM768 580h1v1h-1zM771 580h1v1h-1zM774 580h1v1h-1zM777 580h1v1h-1zM780 580h1v1h-1zM783 580h1v1h-1zM786 580h1v1h-1zM789 580h1v1h-1zM792 580h1v1h-1zM795 580h1v1h-1zM798 580h1v1h-1zM801 580h1v1h-1zM804 580h1v1h-1zM807 580h1v1h-1zM810 580h1v1h-1zM813 580h1v1h-1zM816 580h1v1h-1zM819 580h1v1h-1zM822 580h1v1h-1zM825 580h1v1h-1zM828 580h1v1h-1zM831 580h1v1h-1zM834 580h1v1h-1zM837 580h1v1h-1zM840 580h1v1h-1zM843 580h1v1h-1zM846 580h1v1h-1zM849 580h1v1h-1zM852 580h1v1h-1zM855 580h1v1h-1zM858 580h1v1h-1zM861 580h1v1h-1zM864 580h1v1h-1zM867 580h1v1h-1zM870 580h1v1h-1zM873 580h1v1h-1zM876 580h1v1h-1zM879 580h1v1h-1zM882 580h1v1h-1zM885 580h1v1h-1zM888 580h1v1h-1zM891 580h1v1h-1zM894 580h1v1h-1zM897 580h1v1h-1zM900 580h1v1h-1zM903 580h1v1h-1zM906 580h1v1h-1zM909 580h1v1h-1zM912 580h1v1h-1zM915 580h1v1h-1zM918 580h1v1h-1zM921 580h1v1h-1zM924 580h1v1h-1zM927 580h1v1h-1zM930 580h1v1h-1zM933 580h1v1h-1zM936 580h1v1h-1zM939 580h1v1h-1zM942 580h1v1h-1zM945 580h1v1h-1zM948 580h1v1h-1zM951 580h1v1h-1zM954 580h1v1h-1zM957 580h1v1h-1zM960 580h1v1h-1zM963 580h1v1h-1zM966 580h1v1h-1zM969 580h1v1h-1zM972 580h1v1h-1zM975 580h1v1h-1zM978 580h1v1h-1zM981 580h1v1h-1zM984 580h1v1h-1zM987 580h1v1h-1zM990 580h1v1h-1zM993 580h1v1h-1zM996 580h1v1h-1zM999 580h1v1h-1zM1002 580h1v1h-1zM1005 580h1v1h-1zM1008 580h1v1h-1zM1011 580h1v1h-1zM1014 580h1v1h-1zM1017 580h1v1h-1zM1020 580h1v1h-1zM1023 580h1v1h-1zM1026 580h1v1h-1zM1029 580h1v1h-1zM1032 580h1v1h-1zM1035 580h1v1h-1zM1038 580h1v1h-1zM1041 580h1v1h-1zM1044 580h1v1h-1zM1047 580h1v1h-1zM1050 580h1v1h-1zM1053 580h1v1h-1zM1056 580h1v1h-1zM1059 580h1v1h-1zM1062 580h1v1h-1zM1065 580h1v1h-1zM1068 580h1v1h-1zM1071 580h1v1h-1zM1074 580h1v1h-1zM1077 580h1v1h-1zM1080 580h1v1h-1zM1083 580h1v1h-1zM1086 580h1v1h-1zM1089 580h1v1h-1zM1092 580h1v1h-1zM1095 580h1v1h-1zM1098 580h1v1h-1zM1101 580h1v1h-1zM1104 580h1v1h-1zM1107 580h1v1h-1zM1110 580h1v1h-1zM1113 580h1v1h-1zM1116 580h1v1h-1zM1119 580h1v1h-1zM1122 580h1v1h-1zM1125 580h1v1h-1zM1128 580h1v1h-1zM1131 580h1v1h-1zM1134 580h1v1h-1zM1137 580h1v1h-1zM1140 580h1v1h-1zM1143 580h1v1h-1zM1146 580h1v1h-1zM1149 580h1v1h-1zM1152 580h1v1h-1zM1155 580h1v1h-1zM1158 580h1v1h-1zM1161 580h1v1h-1zM1164 580h1v1h-1zM1167 580h1v1h-1zM1170 580h1v1h-1zM1173 580h1v1h-1zM1176 580h1v1h-1zM1179 580h1v1h-1zM1182 580h1v1h-1zM1185 580h1v1h-1zM1188 580h1v1h-1zM1191 580h1v1h-1zM1194 580h1v1h-1zM1197 580h1v1h-1zM1200 580h1v1h-1zM1203 580h1v1h-1zM1206 580h1v1h-1zM1209 580h1v1h-1zM1212 580h1v1h-1zM1215 580h1v1h-1zM1218 580h1v1h-1zM1221 580h1v1h-1zM1224 580h1v1h-1zM1227 580h1v1h-1zM1230 580h1v1h-1zM1233 580h1v1h-1zM1236 580h1v1h-1zM1239 580h1v1h-1zM1242 580h1v1h-1zM1245 580h1v1h-1zM1248 580h1v1h-1zM1251 580h1v1h-1zM1254 580h1v1h-1zM1257 580h1v1h-1zM1260 580h1v1h-1zM1263 580h1v1h-1zM1266 580h1v1h-1zM1269 580h1v1h-1zM1272 580h1v1h-1zM1275 580h1v1h-1zM1278 580h1v1h-1zM1281 580h1v1h-1zM1284 580h1v1h-1zM1287 580h1v1h-1zM1290 580h1v1h-1zM1293 580h1v1h-1zM1296 580h1v1h-1zM1299 580h1v1h-1zM1302 580h1v1h-1zM1305 580h1v1h-1zM1308 580h1v1h-1zM1311 580h1v1h-1zM1314 580h1v1h-1zM1317 580h1v1h-1zM1320 580h1v1h-1zM1323 580h1v1h-1zM1326 580h1v1h-1zM1329 580h1v1h-1zM1332 580h1v1h-1zM1335 580h1v1h-1zM1338 580h1v1h-1zM1341 580h1v1h-1zM1344 580h1v1h-1zM1347 580h1v1h-1zM1350 580h1v1h-1zM1353 580h1v1h-1zM1356 580h1v1h-1zM1359 580h1v1h-1zM1362 580h1v1h-1zM1365 580h1v1h-1zM1368 580h1v1h-1zM1371 580h1v1h-1zM1374 580h1v1h-1zM1377 580h1v1h-1zM1380 580h1v1h-1zM1383 580h1v1h-1zM1386 580h1v1h-1zM1389 580h1v1h-1zM1392 580h1v1h-1zM1395 580h1v1h-1zM1398 580h1v1h-1zM1401 580h1v1h-1zM1404 580h1v1h-1zM1407 580h1v1h-1zM1410 580h1v1h-1zM1413 580h1v1h-1zM1416 580h1v1h-1zM1419 580h1v1h-1zM1422 580h1v1h-1zM1425 580h1v1h-1zM1428 580h1v1h-1zM1431 580h1v1h-1zM1434 580h1v1h-1zM1437 580h1v1h-1zM1440 580h1v1h-1zM1443 580h1v1h-1z"/>
</g>
<circle cx="1134.5" cy="737.4" r="11.8" fill="#ffffff"/>
<circle cx="1134.5" cy="737.4" r="9.9" fill="#ffffff" stroke="#9c27b0" stroke-width="1.3"/>
<path d="M1137.7 732.1 L1130.4 737.6 L1133.9 737.6 L1131.2 742.7 L1138.5 737.3 L1135.1 737.3 Z" fill="#9c27b0"/>
<rect x="0" y="750" width="1514" height="28" fill="#ffffff"/>
<rect x="0" y="778" width="1514" height="1" fill="#e6e6e9" shape-rendering="crispEdges"/>
<g font-family="'Liberation Sans', sans-serif" style="white-space:pre">
<text x="154.9" y="768.2" textLength="27.2" lengthAdjust="spacingAndGlyphs" font-size="13.0" font-weight="normal" fill="#131722" stroke="#131722" stroke-width="0.45">2016</text>
<text x="256.9" y="768.2" textLength="27.2" lengthAdjust="spacingAndGlyphs" font-size="13.0" font-weight="normal" fill="#131722" stroke="#131722" stroke-width="0.45">2017</text>
<text x="358.9" y="768.2" textLength="27.2" lengthAdjust="spacingAndGlyphs" font-size="13.0" font-weight="normal" fill="#131722" stroke="#131722" stroke-width="0.45">2018</text>
<text x="459.9" y="768.2" textLength="27.2" lengthAdjust="spacingAndGlyphs" font-size="13.0" font-weight="normal" fill="#131722" stroke="#131722" stroke-width="0.45">2019</text>
<text x="561.9" y="768.2" textLength="27.2" lengthAdjust="spacingAndGlyphs" font-size="13.0" font-weight="normal" fill="#131722" stroke="#131722" stroke-width="0.45">2020</text>
<text x="662.9" y="768.2" textLength="27.2" lengthAdjust="spacingAndGlyphs" font-size="13.0" font-weight="normal" fill="#131722" stroke="#131722" stroke-width="0.45">2021</text>
<text x="764.9" y="768.2" textLength="27.2" lengthAdjust="spacingAndGlyphs" font-size="13.0" font-weight="normal" fill="#131722" stroke="#131722" stroke-width="0.45">2022</text>
<text x="866.9" y="768.2" textLength="27.2" lengthAdjust="spacingAndGlyphs" font-size="13.0" font-weight="normal" fill="#131722" stroke="#131722" stroke-width="0.45">2023</text>
<text x="967.9" y="768.2" textLength="27.2" lengthAdjust="spacingAndGlyphs" font-size="13.0" font-weight="normal" fill="#131722" stroke="#131722" stroke-width="0.45">2024</text>
<text x="1069.9" y="768.2" textLength="27.2" lengthAdjust="spacingAndGlyphs" font-size="13.0" font-weight="normal" fill="#131722" stroke="#131722" stroke-width="0.45">2025</text>
<text x="1170.9" y="768.2" textLength="27.2" lengthAdjust="spacingAndGlyphs" font-size="13.0" font-weight="normal" fill="#131722" stroke="#131722" stroke-width="0.45">2026</text>
<text x="1272.9" y="768.2" textLength="27.2" lengthAdjust="spacingAndGlyphs" font-size="13.0" font-weight="normal" fill="#131722" stroke="#131722" stroke-width="0.45">2027</text>
<text x="1374.9" y="768.2" textLength="27.2" lengthAdjust="spacingAndGlyphs" font-size="13.0" font-weight="normal" fill="#131722" stroke="#131722" stroke-width="0.45">2028</text>
<text x="1454.6" y="27.9" textLength="43.2" lengthAdjust="spacingAndGlyphs" font-size="12.6" font-weight="normal" fill="#131722" >0.17000</text>
<text x="1454.6" y="67.4" textLength="43.2" lengthAdjust="spacingAndGlyphs" font-size="12.6" font-weight="normal" fill="#131722" >0.16000</text>
<text x="1454.6" y="107.0" textLength="43.2" lengthAdjust="spacingAndGlyphs" font-size="12.6" font-weight="normal" fill="#131722" >0.15000</text>
<text x="1454.6" y="146.5" textLength="43.2" lengthAdjust="spacingAndGlyphs" font-size="12.6" font-weight="normal" fill="#131722" >0.14000</text>
<text x="1454.6" y="186.0" textLength="43.2" lengthAdjust="spacingAndGlyphs" font-size="12.6" font-weight="normal" fill="#131722" >0.13000</text>
<text x="1454.6" y="225.6" textLength="43.2" lengthAdjust="spacingAndGlyphs" font-size="12.6" font-weight="normal" fill="#131722" >0.12000</text>
<text x="1454.6" y="265.1" textLength="43.2" lengthAdjust="spacingAndGlyphs" font-size="12.6" font-weight="normal" fill="#131722" >0.11000</text>
<text x="1454.6" y="304.6" textLength="43.2" lengthAdjust="spacingAndGlyphs" font-size="12.6" font-weight="normal" fill="#131722" >0.10000</text>
<text x="1454.6" y="344.1" textLength="43.2" lengthAdjust="spacingAndGlyphs" font-size="12.6" font-weight="normal" fill="#131722" >0.09000</text>
<text x="1454.6" y="383.7" textLength="43.2" lengthAdjust="spacingAndGlyphs" font-size="12.6" font-weight="normal" fill="#131722" >0.08000</text>
<text x="1454.6" y="423.2" textLength="43.2" lengthAdjust="spacingAndGlyphs" font-size="12.6" font-weight="normal" fill="#131722" >0.07000</text>
<text x="1454.6" y="462.7" textLength="43.2" lengthAdjust="spacingAndGlyphs" font-size="12.6" font-weight="normal" fill="#131722" >0.06000</text>
<text x="1454.6" y="502.3" textLength="43.2" lengthAdjust="spacingAndGlyphs" font-size="12.6" font-weight="normal" fill="#131722" >0.05000</text>
<text x="1454.6" y="541.8" textLength="43.2" lengthAdjust="spacingAndGlyphs" font-size="12.6" font-weight="normal" fill="#131722" >0.04000</text>
<text x="1454.6" y="620.9" textLength="43.2" lengthAdjust="spacingAndGlyphs" font-size="12.6" font-weight="normal" fill="#131722" >0.02000</text>
<text x="1454.6" y="660.4" textLength="43.2" lengthAdjust="spacingAndGlyphs" font-size="12.6" font-weight="normal" fill="#131722" >0.01000</text>
<text x="1455.4" y="699.9" textLength="48.8" lengthAdjust="spacingAndGlyphs" font-size="12.6" font-weight="normal" fill="#131722" >−0.00000</text>
<text x="1455.4" y="739.4" textLength="48.8" lengthAdjust="spacingAndGlyphs" font-size="12.6" font-weight="normal" fill="#131722" >−0.01000</text>
<path d="M1447 572 h54 a2 2 0 0 1 2 2 v27 a2 2 0 0 1 -2 2 h-54 z" fill="#089981"/>
<text x="1454.4" y="584.8" textLength="43.1" lengthAdjust="spacingAndGlyphs" font-size="12.4" font-weight="bold" fill="#ffffff" >0.02917</text>
<text x="1454.9" y="598.8" textLength="36.3" lengthAdjust="spacingAndGlyphs" font-size="12.0" font-weight="normal" fill="#d6efe9" >14d 0h</text>
<path d="M1447 745.5 h56 a2 2 0 0 1 2 2 v2.5 h-58 z" fill="#26a69a"/>
<path d="M1458 749.2h3v.8h-3z M1463 749.2h3v.8h-3z M1469 749h3v1h-3z M1476 749.2h3v.8h-3z M1482 749.2h3v.8h-3z M1489 749h2v1h-2z M1493 749h2v1h-2z" fill="#cfece8"/>
<path d="M1447 728 h39 a2 2 0 0 1 2 2 v13 a2 2 0 0 1 -2 2 h-39 z" fill="#2962ff"/>
<text x="1454.7" y="741.4" textLength="28.5" lengthAdjust="spacingAndGlyphs" font-size="12.4" font-weight="bold" fill="#ffffff" >1.1 M</text>
<text x="30.9" y="24.8" textLength="69.2" lengthAdjust="spacingAndGlyphs" font-size="15.3" font-weight="normal" fill="#131722" >Ethereum</text>
<text x="110.0" y="24.8" text-anchor="middle" font-size="15.6" font-weight="normal" fill="#131722" >/</text>
<text x="118.7" y="24.8" textLength="49.2" lengthAdjust="spacingAndGlyphs" font-size="15.3" font-weight="normal" fill="#131722" >Bitcoin</text>
<text x="174.4" y="24.8" text-anchor="middle" font-size="15.3" font-weight="bold" fill="#131722" >·</text>
<text x="181.2" y="24.8" textLength="18.9" lengthAdjust="spacingAndGlyphs" font-size="15.3" font-weight="normal" fill="#131722" >1M</text>
<text x="206.3" y="24.8" text-anchor="middle" font-size="15.3" font-weight="bold" fill="#131722" >·</text>
<text x="212.5" y="24.8" textLength="60.8" lengthAdjust="spacingAndGlyphs" font-size="15.3" font-weight="normal" fill="#131722" >BINANCE</text>
<text x="322.2" y="24.0" textLength="9.4" lengthAdjust="spacingAndGlyphs" font-size="13.1" font-weight="normal" fill="#131722" >O</text>
<text x="331.9" y="24.0" textLength="45.9" lengthAdjust="spacingAndGlyphs" font-size="13.1" font-weight="normal" fill="#089981" >0.02320</text>
<text x="384.3" y="24.0" textLength="7.8" lengthAdjust="spacingAndGlyphs" font-size="13.1" font-weight="normal" fill="#131722" >H</text>
<text x="392.9" y="24.0" textLength="45.9" lengthAdjust="spacingAndGlyphs" font-size="13.1" font-weight="normal" fill="#089981" >0.02947</text>
<text x="445.3" y="24.0" textLength="6.4" lengthAdjust="spacingAndGlyphs" font-size="13.1" font-weight="normal" fill="#131722" >L</text>
<text x="452.0" y="24.0" textLength="45.9" lengthAdjust="spacingAndGlyphs" font-size="13.1" font-weight="normal" fill="#089981" >0.02259</text>
<text x="504.2" y="24.0" textLength="8.0" lengthAdjust="spacingAndGlyphs" font-size="13.1" font-weight="normal" fill="#131722" >C</text>
<text x="512.9" y="24.0" textLength="45.9" lengthAdjust="spacingAndGlyphs" font-size="13.1" font-weight="normal" fill="#089981" >0.02917</text>
<text x="565.1" y="24.0" textLength="51.6" lengthAdjust="spacingAndGlyphs" font-size="13.1" font-weight="normal" fill="#089981" >+0.00597</text>
<text x="622.0" y="24.0" textLength="55.2" lengthAdjust="spacingAndGlyphs" font-size="13.1" font-weight="normal" fill="#089981" >(+25.73%)</text>
<text x="18.9" y="50.0" textLength="46.9" lengthAdjust="spacingAndGlyphs" font-size="12.8" font-weight="normal" fill="#f23645" >0.02916</text>
<text x="30.0" y="64.0" textLength="24.2" lengthAdjust="spacingAndGlyphs" font-size="11.0" font-weight="normal" fill="#f23645" >SELL</text>
<text x="138.6" y="50.0" textLength="47.0" lengthAdjust="spacingAndGlyphs" font-size="12.8" font-weight="normal" fill="#2962ff" >0.02917</text>
<text x="151.3" y="64.0" textLength="21.0" lengthAdjust="spacingAndGlyphs" font-size="11.0" font-weight="normal" fill="#2962ff" >BUY</text>
<text x="84.4" y="56.1" textLength="34.5" lengthAdjust="spacingAndGlyphs" font-size="10.2" font-weight="normal" fill="#131722" >0.00001</text>
<text x="8.4" y="90.0" textLength="17.2" lengthAdjust="spacingAndGlyphs" font-size="12.5" font-weight="normal" fill="#131722" >Vol</text>
<text x="32.3" y="90.0" text-anchor="middle" font-size="12.5" font-weight="bold" fill="#131722" >·</text>
<text x="38.9" y="90.0" textLength="22.9" lengthAdjust="spacingAndGlyphs" font-size="12.5" font-weight="normal" fill="#131722" >ETH</text>
<text x="65.2" y="90.0" textLength="14.0" lengthAdjust="spacingAndGlyphs" font-size="12.5" font-weight="normal" fill="#50535e" >20</text>
<text x="86.3" y="90.0" textLength="49.3" lengthAdjust="spacingAndGlyphs" font-size="12.5" font-weight="normal" fill="#26a69a" >478.27 K</text>
<text x="140.9" y="90.0" textLength="30.2" lengthAdjust="spacingAndGlyphs" font-size="12.5" font-weight="normal" fill="#2962ff" >1.1 M</text>
<text x="13.6" y="802.8" textLength="16.3" lengthAdjust="spacingAndGlyphs" font-size="14.4" font-weight="normal" fill="#131722" >1D</text>
<text x="41.7" y="802.8" textLength="16.5" lengthAdjust="spacingAndGlyphs" font-size="14.4" font-weight="normal" fill="#131722" >5D</text>
<text x="69.9" y="802.8" textLength="18.2" lengthAdjust="spacingAndGlyphs" font-size="14.4" font-weight="normal" fill="#131722" >1M</text>
<text x="98.8" y="802.8" textLength="18.0" lengthAdjust="spacingAndGlyphs" font-size="14.4" font-weight="normal" fill="#131722" >3M</text>
<text x="127.5" y="802.8" textLength="18.2" lengthAdjust="spacingAndGlyphs" font-size="14.4" font-weight="normal" fill="#131722" >6M</text>
<text x="157.2" y="802.8" textLength="24.8" lengthAdjust="spacingAndGlyphs" font-size="14.4" font-weight="normal" fill="#131722" >YTD</text>
<text x="194.2" y="802.8" textLength="16.0" lengthAdjust="spacingAndGlyphs" font-size="14.4" font-weight="normal" fill="#131722" >1Y</text>
<text x="221.5" y="802.8" textLength="14.8" lengthAdjust="spacingAndGlyphs" font-size="14.4" font-weight="normal" fill="#131722" >5Y</text>
<text x="248.5" y="802.8" textLength="17.1" lengthAdjust="spacingAndGlyphs" font-size="14.4" font-weight="normal" fill="#131722" >All</text>
<text x="1419.3" y="802.6" textLength="84.9" lengthAdjust="spacingAndGlyphs" font-size="13.6" font-weight="normal" fill="#131722" >00:01:23 UTC</text>
<text x="48.6" y="735.7" textLength="120.4" lengthAdjust="spacingAndGlyphs" font-size="21.2" font-weight="bold" fill="#0f0f0f" stroke="#0f0f0f" stroke-width="0.4">TradingView</text>
</g>
<g transform="translate(12.1,717.75) scale(0.828,0.8125)" fill="#0f0f0f"><path d="M14 22H7V11H0V4h14v18zM28 22h-8l7.5-18h8L28 22z"/><circle cx="20" cy="8" r="4"/></g>
<rect x="8.5" y="35.5" width="68" height="33" rx="6" fill="none" stroke="#f23645" stroke-width="1"/>
<rect x="128.5" y="35.5" width="67" height="33" rx="6" fill="none" stroke="#2962ff" stroke-width="1"/>
<rect x="6.5" y="100.5" width="28" height="20" rx="3" fill="#ffffff" stroke="#e0e3eb" stroke-width="1"/>
<path d="M16.3 113 L20.4 108.9 L24.5 113" fill="none" stroke="#131722" stroke-width="1.4"/>
<circle cx="297" cy="18.5" r="9" fill="#d9f0ec"/>
<circle cx="297" cy="18.5" r="4.1" fill="#089981"/>
<circle cx="21.2" cy="15.7" r="6" fill="#f7931a"/>
<path d="M20.3 12.6 l1.6 0.4 l-1.3 5.4 M21.9 13 c2 .4 1.8 2.2 .2 2.4 c1.8 .5 1.4 2.6 -.9 2.2" fill="none" stroke="#fff4e0" stroke-width="0.9"/>
<circle cx="15" cy="22.1" r="7" fill="#ffffff"/>
<circle cx="15" cy="22.1" r="6" fill="#3f4a9c"/>
<path d="M15 18.2 L18 22.3 L15 26 L12 22.3 Z" fill="#dfe5fb"/>
<path d="M15 20.6 L16.6 22.3 L15 23.6 L13.4 22.3 Z" fill="#8c9eea"/>
<rect x="276" y="787" width="1" height="22" fill="#e6e8ee" shape-rendering="crispEdges"/>
<path d="M291.5 796.7 V792.4 a2 2 0 0 1 2 -2 H306.5 a2 2 0 0 1 2 2 V803.4 a2 2 0 0 1 -2 2 H300.2 M291.5 794.6 H308.5 M296.5 788.1 V791.9 M303.5 788.1 V791.9 M290.2 802.5 H297.9 M294.4 799.2 L297.9 802.5 L294.4 805.8" fill="none" stroke="#131722" stroke-width="1.05" stroke-linecap="round" stroke-linejoin="round"/>
<path d="M1473.3 764.5 L1476.9 758.4 H1484.1 L1487.7 764.5 L1484.1 770.6 H1476.9 Z" fill="none" stroke="#131722" stroke-width="1.1" stroke-linejoin="round"/>
<circle cx="1480.5" cy="764.5" r="2.1" fill="none" stroke="#131722" stroke-width="1.1"/>
</svg>
</body></html>
